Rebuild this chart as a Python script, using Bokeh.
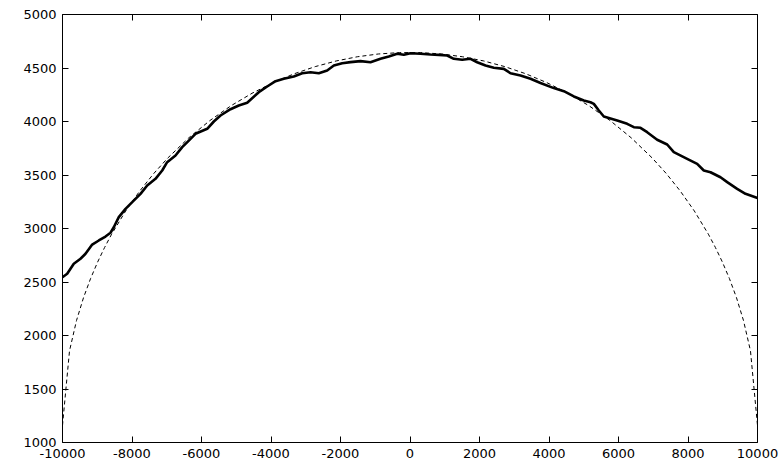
from bokeh.plotting import figure
from bokeh.models import Range1d, LinearAxis, FixedTicker
from bokeh.embed import file_html
from bokeh.resources import INLINE

# Measured profile (noisy trace)
measured_x = [-10000, -9865, -9675, -9482, -9338, -9145, -8955, -8763, -8619, -8524,
              -8380, -8187, -7994, -7755, -7563, -7324, -7131, -6988, -6748, -6555,
              -6365, -6173, -5836, -5645, -5453, -5165, -4927, -4685, -4351, -4110,
              -3870, -3632, -3344, -3102, -2863, -2624, -2383, -2192, -1951, -1712,
              -1424, -1137, -849, -610, -368, -178, 14, 302, 590, 829,
              1070, 1261, 1502, 1741, 1933, 2173, 2412, 2700, 2892, 3180,
              3468, 3755, 4138, 4427, 4715, 5002, 5194, 5290, 5434, 5577,
              5962, 6250, 6441, 6633, 6825, 7113, 7401, 7592, 7976, 8264,
              8455, 8647, 8935, 9128, 9415, 9655, 10000]
measured_y = [2545, 2577, 2670, 2717, 2764, 2850, 2888, 2925, 2960, 3012,
              3106, 3184, 3246, 3324, 3402, 3464, 3542, 3620, 3682, 3760,
              3822, 3885, 3932, 4000, 4056, 4115, 4150, 4175, 4274, 4327,
              4377, 4399, 4421, 4451, 4461, 4451, 4477, 4523, 4545, 4555,
              4564, 4554, 4586, 4607, 4633, 4623, 4638, 4633, 4626, 4623,
              4617, 4586, 4577, 4586, 4554, 4523, 4502, 4492, 4451, 4430,
              4399, 4360, 4312, 4283, 4234, 4196, 4180, 4165, 4103, 4047,
              4009, 3978, 3947, 3941, 3900, 3829, 3785, 3713, 3651, 3604,
              3542, 3526, 3479, 3433, 3371, 3324, 3285]

# Reference profile (dashed)
model_x = [-10000, -9798, -9596, -9394, -9192, -8990, -8788, -8586, -8182, -7778,
           -7374, -6970, -6364, -5758, -5152, -4545, -3939, -3333, -2727, -2121,
           -1515, -909, -303, 303, 909, 1515, 2121, 2727, 3333, 3939,
           4545, 5152, 5758, 6364, 6970, 7374, 7778, 8182, 8586, 8788,
           8990, 9192, 9394, 9596, 9798, 10000]
model_y = [1160, 1857, 2141, 2355, 2532, 2686, 2823, 2947, 3164, 3350,
           3514, 3659, 3848, 4009, 4147, 4264, 4363, 4446, 4513, 4566,
           4605, 4631, 4644, 4644, 4631, 4605, 4566, 4513, 4446, 4363,
           4264, 4147, 4009, 3848, 3659, 3514, 3350, 3164, 2947, 2823,
           2686, 2532, 2355, 2141, 1857, 1160]

x_ticks = [-10000, -8000, -6000, -4000, -2000, 0, 2000, 4000, 6000, 8000, 10000]
y_ticks = [1000, 1500, 2000, 2500, 3000, 3500, 4000, 4500, 5000]
x_tick_labels = ["-10000", "-8000", "-6000", "-4000", "-2000", "0",
                 "2000", "4000", "6000", "8000", "10000"]
y_tick_labels = ["1000", "1500", "2000", "2500", "3000", "3500", "4000", "4500", "5000"]

FONT = "DejaVu Sans"
FONT_SIZE = "13px"

p = figure(width=784, height=461, output_backend="svg", toolbar_location=None,
           x_range=Range1d(-10000, 10000), y_range=Range1d(1000, 5000),
           min_border_left=62, min_border_right=27, min_border_top=14,
           min_border_bottom=19, x_axis_location=None, y_axis_location=None)
p.background_fill_color = "white"
p.border_fill_color = "white"
p.outline_line_color = "black"
p.outline_line_width = 1
p.xgrid.visible = False
p.ygrid.visible = False


def make_axis(ticks, labels):
    ax = LinearAxis(ticker=FixedTicker(ticks=ticks))
    ax.axis_line_color = None
    ax.major_tick_in = 6
    ax.major_tick_out = 0
    ax.major_tick_line_color = "black"
    ax.minor_tick_line_color = None
    ax.major_label_text_font = FONT
    ax.major_label_text_font_size = FONT_SIZE
    ax.major_label_text_color = "black"
    if labels is not None:
        # plain hyphen-minus labels
        ax.major_label_overrides = {t: s for t, s in zip(ticks, labels)}
        ax.major_label_standoff = 6
    else:
        # mirrored ticks only
        ax.major_label_overrides = {t: "" for t in ticks}
        ax.major_label_standoff = 0
    return ax


p.add_layout(make_axis(x_ticks, x_tick_labels), "below")
p.add_layout(make_axis(y_ticks, y_tick_labels), "left")
p.add_layout(make_axis(x_ticks, None), "above")
p.add_layout(make_axis(y_ticks, None), "right")

p.line(model_x, model_y, line_color="black", line_width=1, line_dash="4 3")
p.line(measured_x, measured_y, line_color="black", line_width=2.6)

open("out.html", "w").write(file_html(p, INLINE))
